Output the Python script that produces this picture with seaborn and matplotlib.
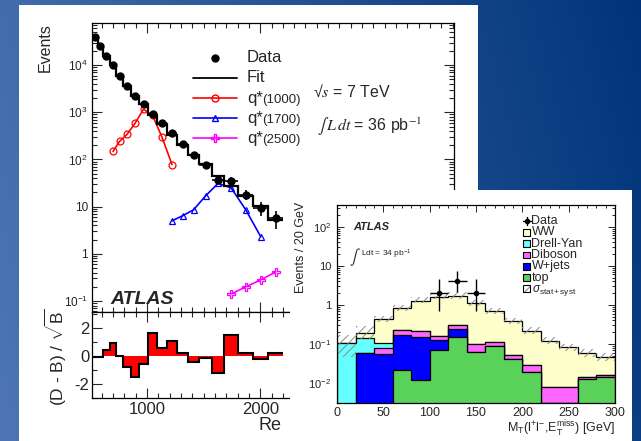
import numpy as np
import matplotlib
matplotlib.use("Agg")
import matplotlib.pyplot as plt
import seaborn as sns
from matplotlib.patches import Rectangle
from matplotlib.lines import Line2D
from matplotlib.ticker import FixedLocator, FixedFormatter, MultipleLocator, LogLocator, NullFormatter

# ---------------- left panel: dijet mass spectrum ----------------
mjj_edges = [513, 566, 611, 673, 726, 788, 858, 929, 1009, 1088, 1177, 1265,
             1363, 1460, 1575, 1681, 1805, 1938, 2071, 2204]
data_events = [39400, 25400, 15500, 10000, 5840, 3570, 2190, 1480, 906, 583,
               357, 208, 122, 78, 37.5, 35.7, 18, 9.5, 5.8]
fit_events = [39410, 25410, 15450, 9910, 5840, 3618, 2260, 1503, 856, 570,
              337, 205, 126, 79, 45, 27, 17, 10.1, 5.3]
significance = [-0.05, -0.05, 0.4, 0.9, 0.0, -0.8, -1.5, -0.6, 1.65, 0.55,
                1.05, 0.2, -0.4, -0.15, -1.25, 1.5, 0.2, -0.2, 0.2]
q1000_mass = [700, 757, 823, 894, 969, 1049, 1133, 1221]
q1000_events = [148, 241, 340, 583, 1160, 863, 294, 78]
q1700_mass = [1221, 1314, 1412, 1518, 1628, 1743, 1872, 2005]
q1700_events = [5.0, 6.4, 8.6, 17, 31, 25, 8.6, 2.3]
q2500_mass = [1743, 1872, 2005, 2138]
q2500_events = [0.141, 0.199, 0.28, 0.414]
left_yticks = [0.1, 1, 10, 100, 1000, 10000]
left_yticklabels = ["10$^{-1}$", "1", "10", "10$^{2}$", "10$^{3}$", "10$^{4}$"]
left_xticks = [1000, 2000]

# ---------------- right panel: WW transverse mass ----------------
mt_edges = [0, 20, 40, 60, 80, 100, 120, 140, 160, 180, 200, 220, 240, 260, 280, 300]
top_bkg = [0, 0, 0, 0.0215, 0.0119, 0.070, 0.154, 0.062, 0.089, 0.040, 0.0195, 0.0031, 0.0031, 0.0124, 0.0145]
wjets_bkg = [0, 0.0577, 0.0555, 0.1485, 0.142, 0.057, 0.088, 0, 0, 0, 0, 0, 0, 0, 0]
diboson_bkg = [0, 0, 0.022, 0.059, 0.066, 0.036, 0.065, 0.038, 0.026, 0.012, 0.0095, 0.0047, 0.0048, 0.0016, 0.0015]
dy_bkg = [0.105, 0.082, 0.0265, 0, 0, 0, 0, 0, 0, 0, 0, 0, 0, 0, 0]
ww_sig = [0.003, 0.048, 0.326, 0.591, 1.07, 1.457, 1.343, 1.02, 0.565, 0.338, 0.191, 0.112, 0.074, 0.044, 0.031]
unc_up = [0.60, 0.50, 0.18, 0.22, 0.24, 0.27, 0.27, 0.20, 0.20, 0.20, 0.22, 0.22, 0.25, 0.25, 0.28]
unc_dn = [0.58, 0.30, 0.15, 0.15, 0.15, 0.15, 0.15, 0.15, 0.15, 0.15, 0.18, 0.18, 0.20, 0.20, 0.20]
ww_data_x = [110, 130, 150]
ww_data_y = [2, 4, 2]
ww_data_lo = [1.29, 1.91, 1.29]
ww_data_hi = [2.64, 3.16, 2.64]
right_yticks = [0.01, 0.1, 1, 10, 100]
right_yticklabels = ["10$^{-2}$", "10$^{-1}$", "1", "10", "10$^{2}$"]

# ---------------- style ----------------
sns.set_theme(style="ticks")
plt.rcParams["font.family"] = ["Liberation Sans", "DejaVu Sans"]
plt.rcParams["mathtext.fontset"] = "custom"
plt.rcParams["mathtext.rm"] = "Liberation Sans"
plt.rcParams["mathtext.it"] = "Liberation Sans:italic"
plt.rcParams["mathtext.bf"] = "Liberation Sans:bold"
plt.rcParams["axes.unicode_minus"] = False
plt.rcParams["axes.edgecolor"] = "black"
plt.rcParams["axes.linewidth"] = 0.9
plt.rcParams["hatch.linewidth"] = 0.7

W, H = 641, 441
fig = plt.figure(figsize=(W / 100, H / 100), dpi=100)


def fbox(x0, y0, x1, y1):
    return [x0 / W, 1 - y1 / H, (x1 - x0) / W, (y1 - y0) / H]


def afrac(box, px, py):
    x0, y0, x1, y1 = box
    return (px - x0) / (x1 - x0), (y1 - py) / (y1 - y0)


# background gradient
bg = fig.add_axes([0, 0, 1, 1], zorder=-10)
xx, yy = np.meshgrid(np.linspace(0, 1, 256), np.linspace(0, 1, 180))
t = np.clip(0.85 * xx + 0.15 * (1 - yy), 0, 1)
light = np.array([78, 118, 180]) / 255
dark = np.array([0, 52, 122]) / 255
img = light[None, None, :] * (1 - t[..., None]) + dark[None, None, :] * t[..., None]
bg.imshow(img, aspect="auto", extent=[0, 1, 0, 1], origin="upper", interpolation="bilinear")
bg.set_axis_off()

# white panels
fig.add_artist(Rectangle((19 / W, 0), (478 - 19) / W, 1 - 5 / H, transform=fig.transFigure,
                         facecolor="white", edgecolor="none", zorder=-9))
fig.add_artist(Rectangle((290 / W, 0), (632 - 290) / W, (H - 190) / H, transform=fig.transFigure,
                         facecolor="white", edgecolor="none", zorder=-5))

# ================= LEFT PANEL =================
box_m = (92, 23, 454, 312)
box_r = (92, 312, 454, 398)
axm = fig.add_axes(fbox(*box_m), zorder=-8)
axr = fig.add_axes(fbox(*box_r), zorder=-8, sharex=axm)

edges = np.array(mjj_edges, dtype=float)
centers = 0.5 * (edges[1:] + edges[:-1])
halfw = 0.5 * (edges[1:] - edges[:-1])

axm.stairs(fit_events, edges, baseline=None, color="black", lw=1.6, zorder=3)
axm.errorbar(centers, data_events, xerr=halfw, yerr=np.sqrt(data_events), fmt="o",
             color="black", ms=5, elinewidth=1.2, capsize=0, zorder=4)
sns.lineplot(x=q1000_mass, y=q1000_events, ax=axm, color="red", lw=1.2, marker="o",
             markersize=5, markerfacecolor="none", markeredgecolor="red", markeredgewidth=0.9, sort=False)
sns.lineplot(x=q1700_mass, y=q1700_events, ax=axm, color="blue", lw=1.2, marker="^",
             markersize=5, markerfacecolor="none", markeredgecolor="blue", markeredgewidth=0.9, sort=False)
sns.lineplot(x=q2500_mass, y=q2500_events, ax=axm, color="magenta", lw=1.2, marker="P",
             markersize=6, markerfacecolor="none", markeredgecolor="magenta", markeredgewidth=0.9, sort=False)

axm.set_yscale("log")
axm.set_xlim(514, 3712)
axm.set_ylim(0.0583, 78300)
axm.yaxis.set_major_locator(FixedLocator(left_yticks))
axm.yaxis.set_major_formatter(FixedFormatter(left_yticklabels))
axm.yaxis.set_minor_locator(LogLocator(base=10, subs=np.arange(2, 10), numticks=50))
axm.yaxis.set_minor_formatter(NullFormatter())
axm.set_xlabel("")
axm.set_ylabel("")
axm.tick_params(which="both", direction="in", top=True, right=True, labelbottom=False, width=0.8)
axm.tick_params(which="major", length=7)
axm.tick_params(which="minor", length=3.5)
axm.tick_params(axis="y", labelsize=8.5, pad=3)

# ratio panel
axr.stairs(significance, edges, baseline=0, fill=True, facecolor="red", edgecolor="none", zorder=2)
axr.stairs(significance, edges, baseline=None, color="black", lw=1.5, zorder=3)
axr.set_ylim(-3, 3.14)
axr.yaxis.set_major_locator(FixedLocator([-2, 0, 2]))
axr.yaxis.set_minor_locator(MultipleLocator(1))
axr.xaxis.set_major_locator(FixedLocator(left_xticks))
axr.xaxis.set_minor_locator(MultipleLocator(100))
axr.tick_params(which="both", direction="in", top=True, right=True, width=0.8)
axr.tick_params(which="major", length=7)
axr.tick_params(which="minor", length=3.5)
axr.tick_params(axis="y", labelsize=12, pad=2)
axr.tick_params(axis="x", labelsize=12, pad=3)

# x title of the left plot: only its first letters show, the rest lies under the right panel
fig.text(259 / W, 1 - 425 / H, "Re", ha="left", va="center", fontsize=13, zorder=-7)
fig.text(45 / W, 1 - 23 / H, "Events", rotation=90, ha="center", va="top", fontsize=11.5, zorder=-7)
fig.text(56 / W, 1 - 357 / H, r"(D - B) / $\sqrt{\rm B}$", rotation=90, ha="center", va="center",
         fontsize=12.5, zorder=-7)

fx, fy = afrac(box_m, 110, 300)
axm.text(fx, fy, "ATLAS", transform=axm.transAxes, fontsize=14, fontweight="bold",
         fontstyle="italic", ha="left", va="center")

# left legend
leg_rows = [("Data", "", 58), ("Fit", "", 78), ("q*", "(1000)", 98),
            ("q*", "(1700)", 118), ("q*", "(2500)", 138)]
leg_styles = [dict(color="black", ls="none", marker="o", ms=5),
              dict(color="black", lw=1.3),
              dict(color="red", lw=1.2, marker="o", ms=5, mfc="none", mec="red"),
              dict(color="blue", lw=1.2, marker="^", ms=5, mfc="none", mec="blue"),
              dict(color="magenta", lw=1.2, marker="P", ms=6, mfc="none", mec="magenta")]
for (lab, sub, py), st in zip(leg_rows, leg_styles):
    x0, y0 = afrac(box_m, 193, py)
    x1, _ = afrac(box_m, 237, py)
    xm, _ = afrac(box_m, 215, py)
    if st.get("ls") != "none":
        st2 = {k: v for k, v in st.items() if k not in ("marker", "ms", "mfc", "mec")}
        axm.add_line(Line2D([x0, x1], [y0, y0], transform=axm.transAxes, **st2))
    if "marker" in st:
        axm.add_line(Line2D([xm], [y0], transform=axm.transAxes, ls="none", marker=st["marker"],
                            ms=st["ms"], mfc=st.get("mfc", st["color"]), mec=st.get("mec", st["color"]),
                            color=st["color"]))
    tx, _ = afrac(box_m, 247, py)
    axm.text(tx, y0, lab, transform=axm.transAxes, fontsize=12, ha="left", va="center")
    if sub:
        sx, sy = afrac(box_m, 262, py + 1.5)
        axm.text(sx, sy, sub, transform=axm.transAxes, fontsize=9.5, ha="left", va="center")

tx, ty = afrac(box_m, 313, 92)
axm.text(tx, ty, "\u221a$s$ = 7 TeV", transform=axm.transAxes, fontsize=11.5, ha="left",
         va="center", math_fontfamily="stix")
tx, ty = afrac(box_m, 317, 127)
axm.text(tx, ty, r"$\int\, L\, dt$ = 36 pb$^{-1}$", transform=axm.transAxes, fontsize=11.5,
         ha="left", va="center", math_fontfamily="stix")

# ================= RIGHT PANEL =================
box_2 = (337, 205, 615, 403)
ax2 = fig.add_axes(fbox(*box_2), zorder=-4)

mt = np.array(mt_edges, dtype=float)
layers = [top_bkg, wjets_bkg, diboson_bkg, dy_bkg, ww_sig]
colors = ["#5ad25a", "#0000ff", "#ff66ff", "#66ffff", "#ffffcc"]
cums = np.cumsum(np.array(layers, dtype=float), axis=0)
floor = 1e-4
for cum, col in zip(cums[::-1], colors[::-1]):
    ax2.stairs(np.maximum(cum, floor), mt, baseline=floor, fill=True, facecolor=col,
               edgecolor="black", lw=0.9, zorder=2)
total = cums[-1]
ax2.stairs(total * (1 + np.array(unc_up)), mt, baseline=total * (1 - np.array(unc_dn)), fill=True,
           facecolor="none", edgecolor="#8a8a8a", hatch="////", lw=0, zorder=3)
ax2.errorbar(ww_data_x, ww_data_y, xerr=10, yerr=[ww_data_lo, ww_data_hi], fmt="o", ms=3,
             color="black", elinewidth=1.0, capsize=0, zorder=5)

ax2.set_yscale("log")
ax2.set_xlim(0, 300)
ax2.set_ylim(0.00307, 360)
ax2.yaxis.set_major_locator(FixedLocator(right_yticks))
ax2.yaxis.set_major_formatter(FixedFormatter(right_yticklabels))
ax2.yaxis.set_minor_locator(LogLocator(base=10, subs=np.arange(2, 10), numticks=50))
ax2.yaxis.set_minor_formatter(NullFormatter())
ax2.xaxis.set_major_locator(MultipleLocator(50))
ax2.xaxis.set_minor_locator(MultipleLocator(10))
ax2.tick_params(which="both", direction="in", top=True, right=True, width=0.7)
ax2.tick_params(which="major", length=5)
ax2.tick_params(which="minor", length=2.5)
ax2.tick_params(axis="y", labelsize=8, pad=4)
ax2.tick_params(axis="x", labelsize=9, pad=3)
for sp in ax2.spines.values():
    sp.set_zorder(6)

fig.text(301 / W, 1 - 202 / H, "Events / 20 GeV", rotation=90, ha="center", va="top", fontsize=9, zorder=-3)
fig.text(615 / W, 1 - 429 / H, r"M$_{\rm T}$(l$^{+}$l$^{-}$,E$_{\rm T}^{\rm miss}$) [GeV]",
         ha="right", va="center", fontsize=9, zorder=-3)

fx, fy = afrac(box_2, 353, 227.5)
ax2.text(fx, fy, "ATLAS", transform=ax2.transAxes, fontsize=8, fontweight="bold", fontstyle="italic",
         ha="left", va="center")
fx, fy = afrac(box_2, 349, 257)
ax2.text(fx, fy, r"$\int$", transform=ax2.transAxes, fontsize=11, ha="left", va="center",
         math_fontfamily="stix")
fx, fy = afrac(box_2, 361, 254)
ax2.text(fx, fy, r"Ldt = 34 pb$^{-1}$", transform=ax2.transAxes, fontsize=6, ha="left", va="center")

# right legend
leg2 = ["Data", "WW", "Drell-Yan", "Diboson", "W+jets", "top", r"$\sigma_{\rm stat+syst}$"]
for i, lab in enumerate(leg2):
    py = 221 + i * 11.3
    bx0, by0 = afrac(box_2, 523, py + 3.4)
    bx1, by1 = afrac(box_2, 530, py - 3.4)
    if i == 0:
        xa, ya = afrac(box_2, 523, py)
        xb, _ = afrac(box_2, 531, py)
        xm, _ = afrac(box_2, 527, py)
        _, yt = afrac(box_2, 527, py - 4)
        _, yb = afrac(box_2, 527, py + 4)
        ax2.add_line(Line2D([xa, xb], [ya, ya], transform=ax2.transAxes, color="black", lw=1))
        ax2.add_line(Line2D([xm, xm], [yb, yt], transform=ax2.transAxes, color="black", lw=1))
        ax2.add_line(Line2D([xm], [ya], transform=ax2.transAxes, color="black", marker="o", ms=3))
    elif i < 6:
        ax2.add_patch(Rectangle((bx0, by0), bx1 - bx0, by1 - by0, transform=ax2.transAxes,
                                facecolor=colors[::-1][i - 1], edgecolor="black", lw=0.8, zorder=7))
    else:
        ax2.add_patch(Rectangle((bx0, by0), bx1 - bx0, by1 - by0, transform=ax2.transAxes,
                                facecolor="white", edgecolor="black", lw=0.8, zorder=7))
        ax2.add_patch(Rectangle((bx0, by0), bx1 - bx0, by1 - by0, transform=ax2.transAxes,
                                facecolor="none", edgecolor="#777777", hatch="////", lw=0, zorder=7))
    tx, ty = afrac(box_2, 531.5, py + (1.5 if i == 6 else 0))
    ax2.text(tx, ty, lab, transform=ax2.transAxes, fontsize=8.5 if i == 6 else 9,
             ha="left", va="center", zorder=8)

fig.savefig("out.png", dpi=100)
